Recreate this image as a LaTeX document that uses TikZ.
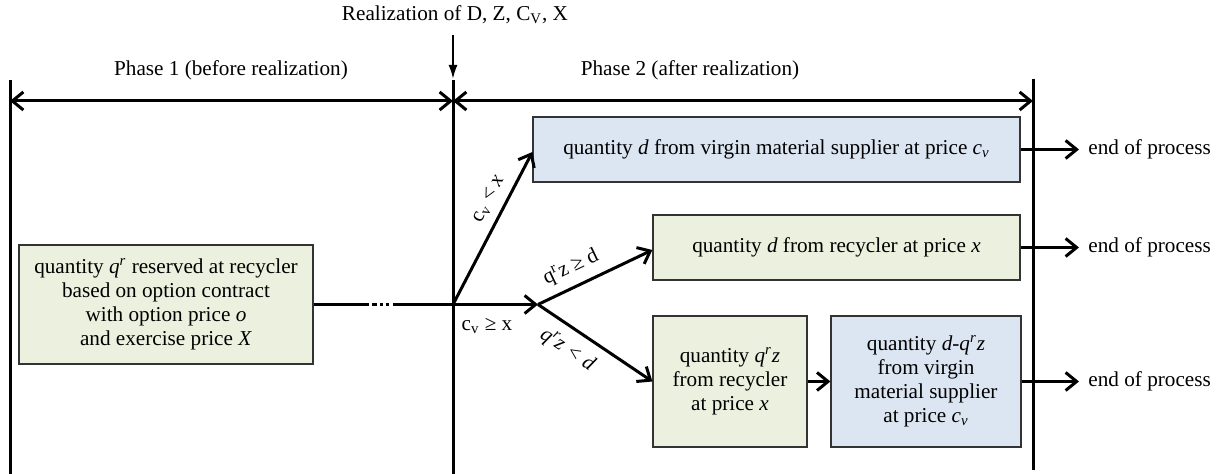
\documentclass[tikz,border=0pt]{standalone}
\usepackage{fontspec}
\setmainfont{Liberation Serif}
\usetikzlibrary{arrows.meta}
\definecolor{gbox}{HTML}{EBF1DE}
\definecolor{bbox}{HTML}{DCE6F2}
\begin{document}
\begin{tikzpicture}[x=0.5pt,y=-0.5pt,
  every node/.style={font=\fontsize{10.6}{12}\selectfont},
  vline/.style={line width=1.5pt},
  arr/.style={line width=1.5pt,-{Straight Barb[length=5.5pt,width=9pt]}},
  darr/.style={line width=1.5pt,{Straight Barb[length=5.5pt,width=9pt]}-{Straight Barb[length=5.5pt,width=9pt]}},
  gbx/.style={draw=black!80,line width=0.6pt,fill=gbox,inner sep=0pt,align=center},
  bbx/.style={draw=black!80,line width=0.6pt,fill=bbox,inner sep=0pt,align=center},
  endtxt/.style={anchor=west,inner sep=0pt}]
\useasboundingbox (0,0) rectangle (1223,474);
% vertical lines
\coordinate (Lt) at (10,80); \coordinate (Lb) at (10,474);
\coordinate (Mt) at (453,80); \coordinate (Mb) at (453,474);
\coordinate (Rt) at (1033,79); \coordinate (Rb) at (1033,470);
\draw[vline] (Lt) -- (Lb);
\draw[vline] (Mt) -- (Mb);
\draw[vline] (Rt) -- (Rb);
% phase arrows
\coordinate (La) at (10,101); \coordinate (Ma) at (453,101); \coordinate (Ra) at (1033,101);
\draw[darr] (La) -- (Ma);
\draw[darr] (Ma) -- (Ra);
\node (ph1) at (231,70) {Phase 1 (before realization)};
\node (ph2) at (690,70) {Phase 2 (after realization)};
% realization
\node (real) at (455,15) {Realization of D, Z, C\textsubscript{V}, X};
\coordinate (rtip) at (453,79);
\draw[line width=1pt,-{Latex[length=7pt,width=4.5pt]}] (real.south -| rtip) ++(0,4) -- (rtip);
% boxes
\node[gbx,minimum width=147pt,minimum height=59.5pt] (lbox) at (166,304.5)
  {quantity \textit{q\textsuperscript{r}} reserved at recycler\\based on option contract\\with option price \textit{o}\\and exercise price \textit{X}};
\node[bbx,minimum width=243.5pt,minimum height=32.5pt] (vbox) at (776.5,149.5)
  {quantity \textit{d} from virgin material supplier at price \textit{c\textsubscript{v}}};
\node[gbx,minimum width=183.5pt,minimum height=32.5pt] (rbox) at (836.5,247.5)
  {quantity \textit{d} from recycler at price \textit{x}};
\node[gbx,minimum width=77pt,minimum height=65.5pt] (rqbox) at (730,381.5)
  {quantity \textit{q\textsuperscript{r}z}\\from recycler\\at price \textit{x}};
\node[bbx,minimum width=95pt,minimum height=65.5pt] (vqbox) at (926,381.5)
  {quantity \textit{d-q\textsuperscript{r}z}\\from virgin\\material supplier\\at price \textit{c\textsubscript{v}}};
% end of process
\node[endtxt] (e1) at (1088,149.5) {end of process};
\node[endtxt] (e2) at (1088,247.5) {end of process};
\node[endtxt] (e3) at (1088,381.5) {end of process};
\draw[arr,shorten >=4.5pt] (vbox.east) -- (e1.west);
\draw[arr,shorten >=4.5pt] (rbox.east) -- (e2.west);
\draw[arr,shorten >=4.5pt] (vqbox.east) -- (e3.west);
% connector
\coordinate (dec) at (453,304.5);
\coordinate (split) at (538,304.5);
\draw[line width=1.5pt,dash pattern=on 27.5pt off 1.8pt on 2.5pt off 1.5pt on 1.5pt off 1.5pt on 1.5pt off 1.8pt on 60pt] (lbox.east) -- (dec);
\draw[arr] (dec) -- (vbox.south west |- 0,152) node[pos=0.64,above,sloped,inner sep=4pt] {c\textsubscript{v} < \textit{x}};
\draw[arr] (dec) -- (split) node[pos=0.4,below,inner sep=6pt] {c\textsubscript{v} ≥ x};
\draw[arr] (split) -- (rbox.west |- 0,250) node[pos=0.36,above,sloped,inner sep=4pt] {q\textsuperscript{r}z ≥ d};
\draw[arr] (split) -- (rqbox.west |- 0,381.5) node[pos=0.36,below,sloped,inner sep=5pt] {\textit{q\textsuperscript{r}z < d}};
\draw[arr] (rqbox.east) -- (vqbox.west);
\end{tikzpicture}
\end{document}
